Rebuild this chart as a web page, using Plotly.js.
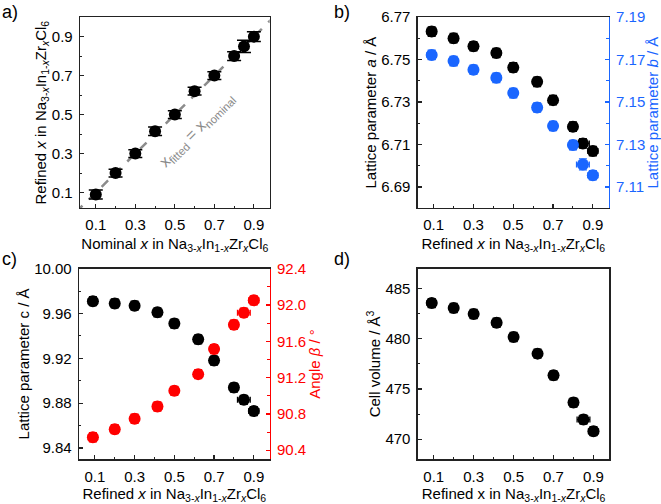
<!DOCTYPE html>
<html>
<head>
<meta charset="utf-8">
<script src="https://cdn.plot.ly/plotly-3.0.1.min.js"></script>
<style>html,body{margin:0;padding:0;background:#fff;}#chart{width:661px;height:504px;}</style>
</head>
<body>
<div id="chart"></div>
<script>
// ---- data ----
const nominalX = [0.1, 0.2, 0.3, 0.4, 0.5, 0.6, 0.7, 0.8, 0.85, 0.9];
const refinedX = [0.09, 0.20, 0.30, 0.415, 0.50, 0.62, 0.70, 0.80, 0.85, 0.90];
const refinedXErr = [0.023, 0.02, 0.02, 0.022, 0.02, 0.02, 0.02, 0.022, 0.032, 0.025];
const latticeA = [6.7632, 6.7601, 6.7563, 6.7531, 6.7463, 6.7395, 6.7309, 6.7184, 6.7105, 6.7069];
const latticeAErr = [0.0022, 0.0022, 0.0022, 0.0022, 0.0022, 0.0022, 0.0022, 0.0022, 0.0022, 0.0022];
const latticeB = [7.1722, 7.1693, 7.1652, 7.1614, 7.1542, 7.1474, 7.1387, 7.1297, 7.1206, 7.1155];
const latticeBErr = [0.0022, 0.0022, 0.0022, 0.0022, 0.0022, 0.0022, 0.0022, 0.0022, 0.0026, 0.0022];
const latticeC = [9.971, 9.969, 9.967, 9.961, 9.951, 9.937, 9.918, 9.894, 9.883, 9.873];
const latticeCErr = [0.004, 0.004, 0.004, 0.004, 0.004, 0.004, 0.004, 0.004, 0.004, 0.004];
const betaAngle = [90.543, 90.632, 90.746, 90.882, 91.054, 91.238, 91.514, 91.782, 91.915, 92.051];
const betaErr = [0.05, 0.05, 0.05, 0.05, 0.05, 0.05, 0.05, 0.05, 0.05, 0.05];
const cellVolume = [483.57, 483.08, 482.48, 481.61, 480.19, 478.53, 476.37, 473.65, 471.96, 470.80];
const cellVolumeErr = [0.45, 0.45, 0.45, 0.45, 0.45, 0.45, 0.45, 0.45, 0.45, 0.45];
const identityLine = [0, 1];

// ---- styles ----
const BLUE = '#1a66ff';
const RED = '#ff0000';
const BLACK = '#000000';
const FONT = 'Liberation Sans, Arial, sans-serif';
const AX = '#222';

function pts(x, y, ex, ey, color, xa, ya, capw) {
  return {
    type: 'scatter', mode: 'markers', x: x, y: y, xaxis: xa, yaxis: ya,
    marker: {color: color, size: 12, line: {width: 0}},
    error_x: {type: 'data', array: ex, visible: true, color: color, thickness: 1.3, width: 3},
    error_y: {type: 'data', array: ey, visible: true, color: color, thickness: 1.3, width: capw},
    showlegend: false, hoverinfo: 'skip'
  };
}

const formula = 'Na<sub>3-<i>x</i></sub>In<sub>1-<i>x</i></sub>Zr<sub><i>x</i></sub>Cl<sub>6</sub>';

const traces = [
  {type: 'scatter', mode: 'lines', x: identityLine, y: identityLine, xaxis: 'x', yaxis: 'y',
   line: {color: '#8c8c8c', width: 2.5, dash: 'dash'}, showlegend: false, hoverinfo: 'skip'},
  {type: 'scatter', mode: 'markers', x: nominalX, y: refinedX, xaxis: 'x', yaxis: 'y',
   marker: {color: BLACK, size: 12},
   error_y: {type: 'data', array: refinedXErr, visible: true, color: BLACK, thickness: 1.5, width: 7},
   showlegend: false, hoverinfo: 'skip'},
  pts(refinedX, latticeB, refinedXErr, latticeBErr, BLUE, 'x2', 'y3', 4),
  pts(refinedX, latticeA, refinedXErr, latticeAErr, BLACK, 'x2', 'y2', 4),
  pts(refinedX, latticeC, refinedXErr, latticeCErr, BLACK, 'x3', 'y4', 4),
  pts(refinedX, betaAngle, refinedXErr, betaErr, RED, 'x3', 'y5', 4),
  pts(refinedX, cellVolume, refinedXErr, cellVolumeErr, BLACK, 'x4', 'y6', 4)
];

function xax(domain, anchor, title) {
  return {
    domain: domain, anchor: anchor, range: [0.02, 0.98],
    tick0: 0.1, dtick: 0.2, tickformat: '.1f',
    ticks: 'inside', ticklen: 4, tickwidth: 1.2, tickcolor: AX,
    minor: {ticks: 'inside', dtick: 0.1, tick0: 0.1, ticklen: 2.5, tickwidth: 1, tickcolor: AX},
    showline: true, linecolor: AX, linewidth: 1.3, mirror: true,
    showgrid: false, zeroline: false, ticklabelstandoff: 3,
    tickfont: {size: 15, color: '#000', family: FONT},
    title: {text: title, font: {size: 15, color: '#000', family: FONT}, standoff: 6}
  };
}
function yax(domain, anchor, range, tick0, dtick, fmt, title, color, side, mirror) {
  const a = {
    domain: domain, anchor: anchor, range: range, tick0: tick0, dtick: dtick, tickformat: fmt,
    ticks: 'inside', ticklen: 4, tickwidth: 1.2, tickcolor: color === '#000' ? AX : color,
    minor: {ticks: 'inside', dtick: dtick / 2, ticklen: 2.5, tickwidth: 1, tickcolor: color === '#000' ? AX : color},
    showline: true, linecolor: color === '#000' ? AX : color, linewidth: 1.3, mirror: mirror,
    showgrid: false, zeroline: false, ticklabelstandoff: 3,
    tickfont: {size: 15, color: color, family: FONT},
    title: {text: title, font: {size: 15, color: color, family: FONT}, standoff: 1},
    side: side
  };
  return a;
}

const topY = [0.587, 0.966];
const botY = [0.0887, 0.467];

const layout = {
  width: 661, height: 504,
  margin: {l: 0, r: 0, t: 0, b: 0},
  paper_bgcolor: '#fff', plot_bgcolor: 'rgba(0,0,0,0)',
  font: {family: FONT, size: 15, color: '#000'},
  showlegend: false,
  xaxis: xax([0.121, 0.408], 'y', 'Nominal <i>x</i> in ' + formula),
  yaxis: yax(topY, 'x', [0.02, 1.0], 0.1, 0.2, '.1f', 'Refined <i>x</i> in ' + formula, '#000', 'left', true),
  xaxis2: xax([0.632, 0.921], 'y2', 'Refined <i>x</i> in ' + formula),
  yaxis2: yax(topY, 'x2', [6.68, 6.77], 6.69, 0.02, '.2f', 'Lattice parameter <i>a</i> / Å', '#000', 'left', false),
  yaxis3: Object.assign(yax(topY, 'x2', [7.10, 7.19], 7.11, 0.02, '.2f', 'Lattice parameter <i>b</i> / Å', BLUE, 'right', false), {overlaying: 'y2'}),
  xaxis3: xax([0.1195, 0.408], 'y4', 'Refined <i>x</i> in ' + formula),
  yaxis4: yax(botY, 'x3', [9.83, 10.0], 9.84, 0.04, '.2f', 'Lattice parameter c / Å', '#000', 'left', false),
  yaxis5: Object.assign(yax(botY, 'x3', [90.3, 92.4], 90.4, 0.4, '.1f', 'Angle <i>β</i> / °', RED, 'right', false), {overlaying: 'y4'}),
  xaxis4: xax([0.632, 0.922], 'y6', 'Refined x in ' + formula),
  yaxis6: yax(botY, 'x4', [468, 487], 470, 5, 'd', 'Cell volume / Å<sup>3</sup>', '#000', 'left', true),
  annotations: [
    {text: 'a)', xref: 'paper', yref: 'paper', x: 0.0, y: 1.0, xanchor: 'left', yanchor: 'top', showarrow: false, font: {size: 18, family: FONT}},
    {text: 'b)', xref: 'paper', yref: 'paper', x: 0.503, y: 1.0, xanchor: 'left', yanchor: 'top', showarrow: false, font: {size: 18, family: FONT}},
    {text: 'c)', xref: 'paper', yref: 'paper', x: 0.0, y: 0.51, xanchor: 'left', yanchor: 'top', showarrow: false, font: {size: 18, family: FONT}},
    {text: 'd)', xref: 'paper', yref: 'paper', x: 0.503, y: 0.51, xanchor: 'left', yanchor: 'top', showarrow: false, font: {size: 18, family: FONT}},
    {text: 'x<sub>fitted</sub> = x<sub>nominal</sub>', xref: 'x', yref: 'y', x: 0.61, y: 0.42,
     textangle: -45, showarrow: false, font: {size: 16, color: '#8a8a8a', family: FONT}}
  ]
};

Plotly.newPlot('chart', traces, layout, {staticPlot: true, displayModeBar: false});
</script>
</body>
</html>
